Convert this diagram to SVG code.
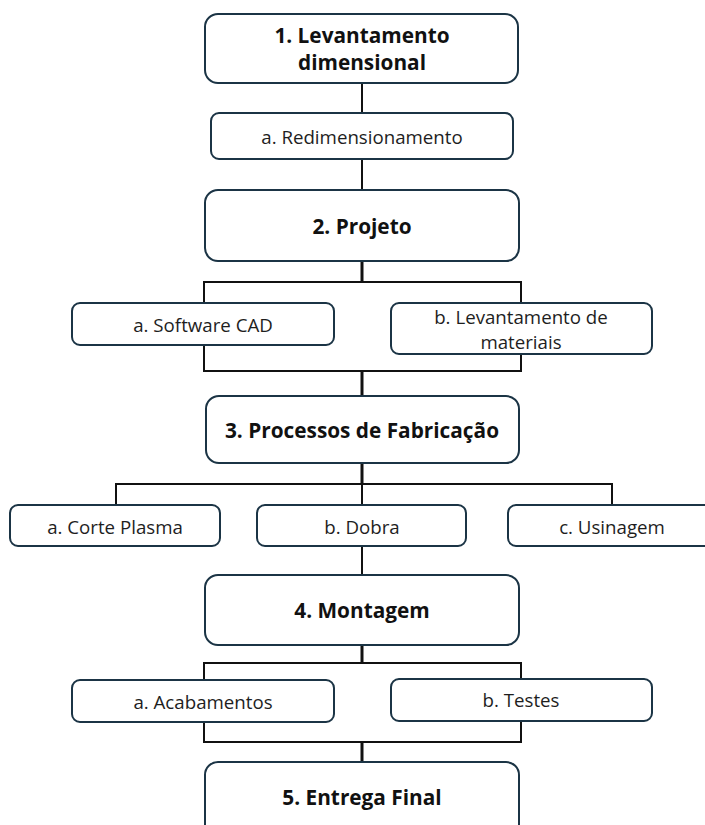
<svg xmlns="http://www.w3.org/2000/svg" width="705" height="825" viewBox="0 0 705 825">
<style>
.box{fill:#ffffff;stroke:#1b3445;stroke-width:2}
.t{font-family:"Open Sans","Liberation Sans",sans-serif;font-size:18.7px;fill:#1e1e1e;text-anchor:middle;dominant-baseline:central}
.b{font-family:"Open Sans","Liberation Sans",sans-serif;font-size:20.8px;font-weight:bold;fill:#111111;text-anchor:middle;dominant-baseline:central}
.c{fill:none;stroke:#111111;stroke-width:2}
.ct{fill:none;stroke:#111111;stroke-width:3}
</style>
<rect width="705" height="825" fill="#ffffff"/>
<g id="connectors">
<path class="c" d="M362 83 V113"/>
<path class="c" d="M362 159 V190"/>
<path class="ct" d="M362 261 V282"/>
<path class="c" d="M204 303 V282 H521 V303"/>
<path class="c" d="M204 345 V371 H521 V354"/>
<path class="ct" d="M362 371 V396"/>
<path class="ct" d="M362 463 V484"/>
<path class="c" d="M116 505 V484 H612 V505"/>
<path class="c" d="M362 484 V505"/>
<path class="c" d="M362 546 V575"/>
<path class="ct" d="M362 645 V663"/>
<path class="c" d="M204 680 V663 H521 V679"/>
<path class="c" d="M204 722 V742 H521 V721"/>
<path class="ct" d="M362 742 V762"/>
</g>
<g id="n1">
<rect class="box" x="205" y="14" width="313" height="69" rx="13"/>
<text class="b" x="362" y="35">1. Levantamento</text>
<text class="b" x="362" y="62">dimensional</text>
</g>
<g id="n1a">
<rect class="box" x="211" y="113" width="302" height="46" rx="8"/>
<text class="t" x="362" y="136">a. Redimensionamento</text>
</g>
<g id="n2">
<rect class="box" x="205" y="190" width="314" height="71" rx="13"/>
<text class="b" x="362" y="226">2. Projeto</text>
</g>
<g id="n2a">
<rect class="box" x="72" y="303" width="262" height="42" rx="8"/>
<text class="t" x="203" y="324">a. Software CAD</text>
</g>
<g id="n2b">
<rect class="box" x="391" y="303" width="261" height="51" rx="8"/>
<text class="t" x="521" y="316">b. Levantamento de</text>
<text class="t" x="521" y="341">materiais</text>
</g>
<g id="n3">
<rect class="box" x="206" y="396" width="313" height="67" rx="13"/>
<text class="b" x="362" y="430">3. Processos de Fabricação</text>
</g>
<g id="n3a">
<rect class="box" x="10" y="505" width="210" height="41" rx="8"/>
<text class="t" x="115" y="526">a. Corte Plasma</text>
</g>
<g id="n3b">
<rect class="box" x="257" y="505" width="209" height="41" rx="8"/>
<text class="t" x="362" y="526">b. Dobra</text>
</g>
<g id="n3c">
<rect class="box" x="508" y="505" width="212" height="41" rx="8"/>
<text class="t" x="612" y="526">c. Usinagem</text>
</g>
<g id="n4">
<rect class="box" x="205" y="575" width="314" height="70" rx="13"/>
<text class="b" x="362" y="610">4. Montagem</text>
</g>
<g id="n4a">
<rect class="box" x="72" y="680" width="262" height="42" rx="8"/>
<text class="t" x="203" y="701">a. Acabamentos</text>
</g>
<g id="n4b">
<rect class="box" x="391" y="679" width="261" height="42" rx="8"/>
<text class="t" x="521" y="699">b. Testes</text>
</g>
<g id="n5">
<rect class="box" x="205" y="762" width="314" height="75" rx="13"/>
<text class="b" x="362" y="797">5. Entrega Final</text>
</g>
</svg>
